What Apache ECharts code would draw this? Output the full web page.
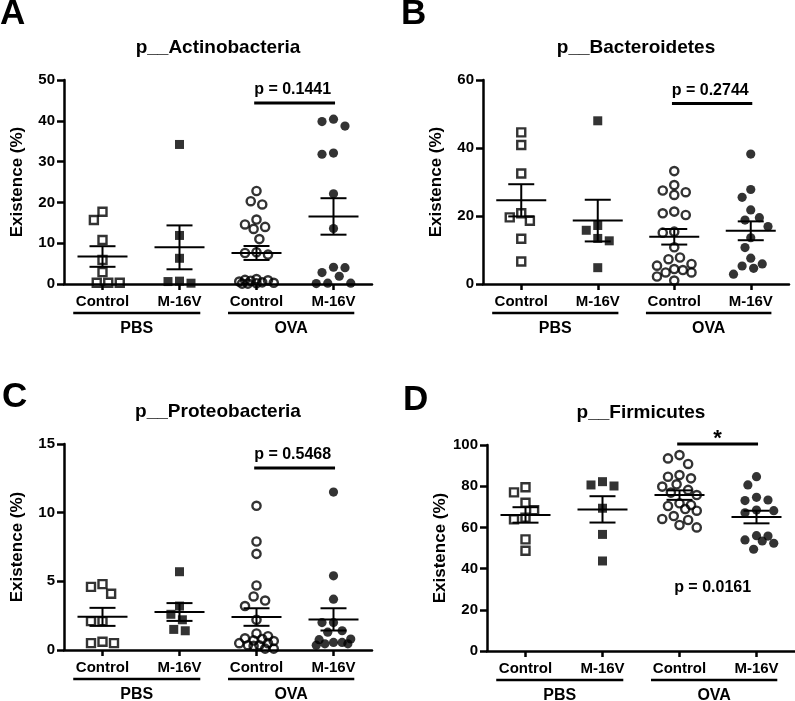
<!DOCTYPE html>
<html><head><meta charset="utf-8">
<script src="https://cdn.jsdelivr.net/npm/echarts@6/dist/echarts.min.js"></script>
<style>html,body{margin:0;padding:0;background:#fff}#c{width:795px;height:701px}</style>
</head><body><div id="c"></div>
<script>
// ---------------- DATA ----------------
const categories = ['Control', 'M-16V', 'Control', 'M-16V'];
const treatments = ['PBS', 'OVA'];
const panelLetters = ['A', 'B', 'C', 'D'];
const panelTitles = ['p__Actinobacteria', 'p__Bacteroidetes', 'p__Proteobacteria', 'p__Firmicutes'];
const yAxisName = 'Existence (%)';
const yMaxValues = [50, 60, 15, 100];
const yIntervals = [10, 20, 5, 20];
const pValueLabels = ['p = 0.1441', 'p = 0.2744', 'p = 0.5468', 'p = 0.0161'];
const significanceMarks = ['', '', '', '*'];

const actinoPbsControl = [17.7, 15.7, 10.8, 5.9, 2.9, 0.3, 0.3, 0.3];
const actinoPbsM16V = [34.2, 11.9, 6.3, 0.7, 0.2, 0.6];
const actinoOvaControl = [22.8, 20.3, 19.5, 15.8, 14.6, 14.0, 13.5, 11.0, 7.8, 7.6, 7.2, 1.2, 1.0, 0.9, 0.8, 0.6, 0.4, 0.3, 0.2, 0.1, 0.1];
const actinoOvaM16V = [40.4, 39.8, 38.7, 32.1, 31.8, 22.1, 13.6, 4.1, 4.0, 2.8, 1.9, 0.2, 0.1, 0.2];

const bacterPbsControl = [44.6, 40.9, 32.5, 20.8, 19.6, 18.6, 13.3, 6.6];
const bacterPbsM16V = [48.0, 17.2, 15.8, 13.4, 12.7, 4.8];
const bacterOvaControl = [33.2, 29.1, 27.0, 26.2, 27.5, 21.3, 20.3, 20.8, 15.4, 15.1, 10.8, 7.8, 7.3, 5.9, 5.4, 4.1, 3.4, 3.4, 4.4, 2.2, 1.0];
const bacterOvaM16V = [38.2, 27.8, 25.5, 21.8, 19.5, 18.8, 16.9, 13.6, 10.7, 7.6, 5.9, 5.3, 4.6, 2.9];

const proteoPbsControl = [4.8, 4.6, 4.1, 2.1, 2.1, 0.6, 0.5, 0.5];
const proteoPbsM16V = [5.7, 3.2, 2.6, 2.2, 1.4, 1.5];
const proteoOvaControl = [10.5, 7.9, 7.0, 4.7, 3.9, 3.6, 3.2, 2.2, 1.2, 1.0, 0.85, 0.7, 0.8, 0.65, 0.5, 0.35, 0.3, 0.35, 0.5, 0.1, 0.1];
const proteoOvaM16V = [11.5, 5.4, 3.7, 2.0, 2.0, 1.4, 1.3, 0.8, 0.55, 0.45, 0.35, 0.45, 0.55, 0.75];

const firmPbsControl = [79.5, 77.0, 72.0, 68.4, 64.7, 63.9, 54.2, 48.7];
const firmPbsM16V = [80.6, 80.1, 82.2, 69.3, 56.6, 43.7];
const firmOvaControl = [95.1, 93.5, 90.8, 85.4, 84.6, 83.8, 80.9, 79.8, 78.2, 76.9, 75.7, 71.7, 70.9, 70.4, 68.9, 68.1, 65.5, 64.1, 63.6, 61.2, 60.0];
const firmOvaM16V = [84.6, 80.6, 74.6, 73.3, 73.0, 68.4, 68.1, 67.1, 56.0, 55.8, 53.4, 53.9, 52.3, 49.4];

const panelGroups = [
  [actinoPbsControl, actinoPbsM16V, actinoOvaControl, actinoOvaM16V],
  [bacterPbsControl, bacterPbsM16V, bacterOvaControl, bacterOvaM16V],
  [proteoPbsControl, proteoPbsM16V, proteoOvaControl, proteoOvaM16V],
  [firmPbsControl, firmPbsM16V, firmOvaControl, firmOvaM16V]
];

// ---------------- LAYOUT / STYLE ----------------
const FONT = '"Liberation Sans", Arial, Helvetica, sans-serif';
const grids = [
  { left: 64, top: 80, width: 308, height: 204 },
  { left: 483, top: 80, width: 306, height: 204 },
  { left: 64, top: 444, width: 308, height: 206 },
  { left: 487, top: 445, width: 308, height: 206 }
];
const letterPos = [[0, -3], [401, -3], [2, 380], [403, 383]];
const sigBarY = [44.36, 53.1, 13.25, 100.5];
const groupSpans = [[-0.38, 1.27], [1.63, 3.27]];
const SWARM_D = 11.5;
const SWARM_MAXW = 20;

function swarm(values, yPx, d, maxW) {
  const order = values.map((v, i) => i).sort((a, b) => values[b] - values[a]);
  const placed = [];
  const offs = new Array(values.length).fill(0);
  const step = d / 4;
  const cands = [0];
  for (let k = 1; k * step <= maxW + 1e-6; k++) { cands.push(-k * step, k * step); }
  let flip = false;
  order.forEach(i => {
    const y = values[i] * yPx;
    const minDist = x => placed.reduce((mn, p) => Math.min(mn, Math.hypot(p.x - x, p.y - y)), Infinity);
    let chosen = null, bestX = 0, bestD = -1;
    for (let c = 0; c < cands.length; c++) {
      let x = cands[c];
      if (flip) x = -x;
      const md = minDist(x);
      if (md >= d * 0.98) { chosen = x; break; }
      if (md > bestD) { bestD = md; bestX = x; }
    }
    if (chosen === null) chosen = bestX;
    if (chosen !== 0) flip = !flip;
    placed.push({ x: chosen, y });
    offs[i] = chosen;
  });
  return offs;
}
function stats(v) {
  const n = v.length;
  const m = v.reduce((s, x) => s + x, 0) / n;
  const sd = Math.sqrt(v.reduce((s, x) => s + (x - m) * (x - m), 0) / (n - 1));
  return [m, sd / Math.sqrt(n)];
}

const symbolStyles = [
  { symbol: 'rect', symbolSize: 8, itemStyle: { color: 'rgba(255,255,255,0)', borderColor: '#000', borderWidth: 2.4 } },
  { symbol: 'rect', symbolSize: 9, itemStyle: { color: '#000', borderWidth: 0 } },
  { symbol: 'circle', symbolSize: 8.2, itemStyle: { color: 'rgba(255,255,255,0)', borderColor: '#000', borderWidth: 2.4 } },
  { symbol: 'circle', symbolSize: 9.2, itemStyle: { color: '#000', borderWidth: 0 } }
];

const option = {
  animation: false,
  backgroundColor: '#fff',
  title: panelLetters.map((t, i) => ({
    text: t, left: letterPos[i][0], top: letterPos[i][1], padding: 0,
    textStyle: { fontSize: 35, fontWeight: 'bold', fontFamily: FONT, color: '#000' }
  })),
  grid: grids,
  xAxis: [], yAxis: [], series: []
};

panelGroups.forEach((groups, i) => {
  const g = grids[i];
  const xPx = g.width / 4;
  const yPx = g.height / yMaxValues[i];
  option.xAxis.push({
    type: 'value', gridIndex: i, min: -0.5, max: 3.5,
    splitLine: { show: false },
    axisLine: { show: true, onZero: false, lineStyle: { color: '#000', width: 2.5 } },
    axisTick: { show: true, customValues: [0, 1, 2, 3], length: 6, lineStyle: { color: '#000', width: 2.5 } },
    axisLabel: { show: true, customValues: [0, 1, 2, 3], formatter: v => categories[Math.round(v)], margin: 10,
      fontSize: 15, fontWeight: 'bold', fontFamily: FONT, color: '#000' }
  });
  option.yAxis.push({
    type: 'value', gridIndex: i, min: 0, max: yMaxValues[i], interval: yIntervals[i],
    name: yAxisName, nameLocation: 'middle', nameGap: 38,
    nameTextStyle: { fontSize: 17, fontWeight: 'bold', fontFamily: FONT, color: '#000' },
    splitLine: { show: false },
    axisLine: { show: true, onZero: false, lineStyle: { color: '#000', width: 2.5 } },
    axisTick: { show: true, length: 7, lineStyle: { color: '#000', width: 2.5 } },
    axisLabel: { margin: 9, fontSize: 15, fontWeight: 'bold', fontFamily: FONT, color: '#000' }
  });
  const summary = [];
  groups.forEach((vals, gi) => {
    const offs = swarm(vals, yPx, SWARM_D, SWARM_MAXW);
    option.series.push(Object.assign({
      type: 'scatter', xAxisIndex: i, yAxisIndex: i, z: 2,
      data: vals.map((v, k) => [gi + offs[k] / xPx, v])
    }, symbolStyles[gi]));
    const [m, se] = stats(vals);
    summary.push([gi, m, se]);
  });
  option.series.push({
    type: 'custom', xAxisIndex: i, yAxisIndex: i, z: 5, clip: false,
    data: summary,
    renderItem: (params, api) => {
      const x = api.value(0), m = api.value(1), s = api.value(2);
      const c = api.coord([x, m]), u = api.coord([x, m + s]), l = api.coord([x, m - s]);
      const st = { stroke: '#000', lineWidth: 2 };
      return { type: 'group', children: [
        { type: 'line', shape: { x1: c[0] - 25, y1: c[1], x2: c[0] + 25, y2: c[1] }, style: st },
        { type: 'line', shape: { x1: u[0] - 13, y1: u[1], x2: u[0] + 13, y2: u[1] }, style: st },
        { type: 'line', shape: { x1: l[0] - 13, y1: l[1], x2: l[0] + 13, y2: l[1] }, style: st },
        { type: 'line', shape: { x1: u[0], y1: u[1], x2: l[0], y2: l[1] }, style: st }
      ] };
    }
  });
  option.series.push({
    type: 'custom', xAxisIndex: i, yAxisIndex: i, z: 6, clip: false,
    data: [[0, 0]],
    renderItem: (params, api) => {
      const ch = [];
      const txt = (t, x, y, size) => ({ type: 'text', x, y, style: { text: t, fill: '#000', fontSize: size,
        fontWeight: 'bold', fontFamily: FONT, align: 'center', verticalAlign: 'middle' } });
      const base = api.coord([0, 0])[1];
      groupSpans.forEach((sp, k) => {
        const a = api.coord([sp[0], 0]), b = api.coord([sp[1], 0]);
        ch.push({ type: 'line', shape: { x1: a[0], y1: base + 29, x2: b[0], y2: base + 29 }, style: { stroke: '#000', lineWidth: 2.5 } });
        ch.push(txt(treatments[k], (a[0] + b[0]) / 2, base + 45, 16));
      });
      const tc = api.coord([1.5, yMaxValues[i]]);
      ch.push(txt(panelTitles[i], tc[0], tc[1] - 32, 19));
      const s1 = api.coord([1.97, sigBarY[i]]), s2 = api.coord([3.02, sigBarY[i]]);
      ch.push({ type: 'line', shape: { x1: s1[0], y1: s1[1], x2: s2[0], y2: s2[1] }, style: { stroke: '#000', lineWidth: 3 } });
      if (significanceMarks[i]) {
        ch.push(txt(significanceMarks[i], (s1[0] + s2[0]) / 2, s1[1] - 5, 22));
        const pc = api.coord([2.43, 30.6]);
        ch.push(txt(pValueLabels[i], pc[0], pc[1], 16));
      } else {
        const pc = api.coord([2.47, sigBarY[i]]);
        ch.push(txt(pValueLabels[i], pc[0], pc[1] - 13, 16));
      }
      return { type: 'group', children: ch };
    }
  });
});

const chart = echarts.init(document.getElementById('c'), null, { renderer: 'canvas' });
chart.setOption(option);
</script></body></html>
